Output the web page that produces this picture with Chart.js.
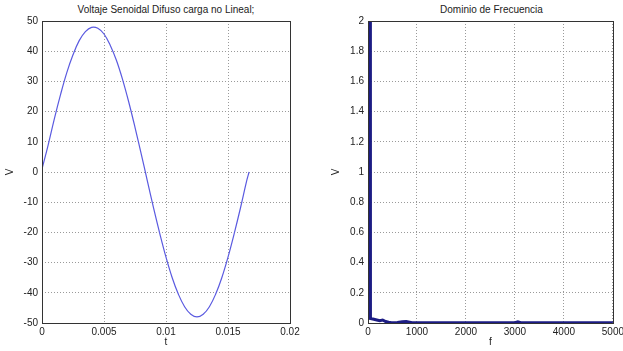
<!DOCTYPE html>
<html>
<head>
<meta charset="utf-8">
<script src="https://cdn.jsdelivr.net/npm/chart.js@4"></script>
<style>
  html, body { margin: 0; padding: 0; background: #fff; width: 623px; height: 351px; overflow: hidden; }
  .box { position: absolute; top: 0; height: 351px; }
  .ttl { position: absolute; top: 4px; font: 10px "Liberation Sans", Arial, sans-serif; color: #222; text-align: center; white-space: nowrap; }
</style>
</head>
<body>
<div class="ttl" style="left:42px;width:248px;">Voltaje Senoidal Difuso carga no Lineal;</div>
<div class="ttl" style="left:368px;width:247px;">Dominio de Frecuencia</div>
<div class="box" style="left:0;width:310px;"><canvas id="timeChart"></canvas></div>
<div class="box" style="left:326px;width:301px;"><canvas id="freqChart"></canvas></div>
<script>
// time domain
const timeValues = [0, 0.0005, 0.001, 0.0015, 0.002, 0.0025, 0.003, 0.0035, 0.004, 0.0045,
    0.005, 0.0055, 0.006, 0.0065, 0.007, 0.0075, 0.008, 0.0085, 0.009, 0.0095,
    0.01, 0.0105, 0.011, 0.0115, 0.012, 0.0125, 0.013, 0.0135, 0.014, 0.0145,
    0.015, 0.0155, 0.016, 0.0165, 0.0167];
const voltValues = [1, 9, 17.7, 25.7, 32.9, 38.8, 43.5, 46.5, 47.9, 47.6,
    45.7, 42, 37, 30.6, 23.1, 14.8, 6, -3, -12, -20.4,
    -28.2, -35, -40.5, -44.6, -47.1, -48, -47.1, -44.6, -40.5, -35,
    -28.2, -20.4, -12, -3, 0];

// frequency domain (main peak goes off the top)
const freqValues = [0, 25, 50, 120, 180, 240, 300, 360, 420, 480, 600, 700, 780, 900, 1000,
    1500, 2000, 2500, 3000, 3060, 3120, 3500, 4000, 4500, 5000];
const magValues = [0.03, 48, 0.03, 0.025, 0.02, 0.015, 0.02, 0.01, 0.005, 0.002, 0.003, 0.008, 0.01, 0.002, 0.002,
    0.001, 0.001, 0.001, 0.002, 0.008, 0.002, 0.001, 0.001, 0.001, 0.001];

const FONT = { family: '"Liberation Sans", Arial, sans-serif', size: 10 };

// draws the full axes box like matlab
const frameBox = {
    id: 'frameBox',
    afterDraw(chart) {
        const a = chart.chartArea, ctx = chart.ctx;
        ctx.save();
        ctx.strokeStyle = '#333';
        ctx.lineWidth = 1;
        ctx.strokeRect(Math.round(a.left) + 0.5, Math.round(a.top) + 0.5,
            Math.round(a.right - a.left), Math.round(a.bottom - a.top));
        ctx.restore();
    }
};

function fmt(v) { return String(+Number(v).toFixed(4)); }

function axes(xMin, xMax, xStep, yMin, yMax, yStep, xTitle) {
    const grid = { color: '#9a9a9a', lineWidth: 1, tickLength: 0, drawTicks: false };
    return {
        x: {
            type: 'linear', min: xMin, max: xMax,
            ticks: { stepSize: xStep, color: '#222', font: FONT, padding: 3, maxRotation: 0, callback: fmt },
            grid: Object.assign({}, grid), border: { display: false, dash: [1, 2] },
            title: { display: true, text: xTitle, color: '#222', font: FONT, padding: { top: 0, bottom: 3 } },
            afterFit(s) { s.height = 28; }
        },
        y: {
            min: yMin, max: yMax,
            ticks: { stepSize: yStep, color: '#222', font: FONT, padding: 4, callback: fmt },
            grid: Object.assign({}, grid), border: { display: false, dash: [1, 2] },
            title: { display: true, text: 'V', color: '#222', font: FONT, padding: { top: 4, bottom: 0 } },
            afterFit(s) { s.width = 42; }
        }
    };
}

function renderTimeChart() {
    const ctx = document.getElementById('timeChart').getContext('2d');
    new Chart(ctx, {
        type: 'line',
        data: {
            datasets: [{
                data: timeValues.map((t, i) => ({ x: t, y: voltValues[i] })),
                borderColor: '#5a5ae0',
                borderWidth: 1.2,
                pointRadius: 0,
                tension: 0.4,
                fill: false
            }]
        },
        options: {
            animation: false,
            responsive: true,
            maintainAspectRatio: false,
            layout: { padding: { top: 21, right: 20, left: 0, bottom: 0 } },
            plugins: { legend: { display: false }, tooltip: { enabled: false } },
            scales: axes(0, 0.02, 0.005, -50, 50, 10, 't')
        },
        plugins: [frameBox]
    });
}

function renderFreqChart() {
    const ctx = document.getElementById('freqChart').getContext('2d');
    new Chart(ctx, {
        type: 'line',
        data: {
            datasets: [{
                data: freqValues.map((f, i) => ({ x: f, y: magValues[i] })),
                borderColor: '#1c1c84',
                borderWidth: 3,
                pointRadius: 0,
                tension: 0,
                fill: false
            }]
        },
        options: {
            animation: false,
            responsive: true,
            maintainAspectRatio: false,
            layout: { padding: { top: 21, right: 10, left: 0, bottom: 0 } },
            plugins: { legend: { display: false }, tooltip: { enabled: false } },
            scales: axes(0, 5000, 1000, 0, 2, 0.2, 'f')
        },
        plugins: [frameBox]
    });
}

window.onload = function () {
    renderTimeChart();
    renderFreqChart();
};
</script>
</body>
</html>
